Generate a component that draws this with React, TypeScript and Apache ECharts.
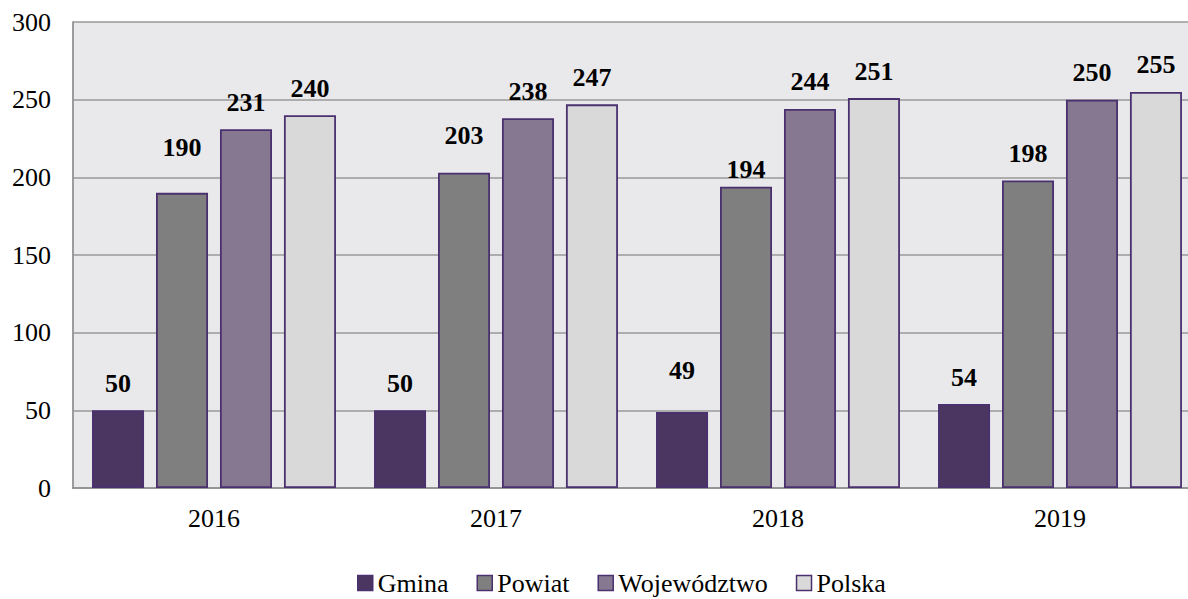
import React, { useEffect, useRef } from "react";
import * as echarts from "echarts";

const categories = ["2016", "2017", "2018", "2019"];
const gmina = [50, 50, 49, 54];
const powiat = [190, 203, 194, 198];
const wojewodztwo = [231, 238, 244, 250];
const polska = [240, 247, 251, 255];
const yTicks = [0, 50, 100, 150, 200, 250, 300];

const seriesDefs = [
  { name: "Gmina", data: gmina, color: "#4a3660" },
  { name: "Powiat", data: powiat, color: "#7f7f7f" },
  { name: "Województwo", data: wojewodztwo, color: "#877891" },
  { name: "Polska", data: polska, color: "#d9d9d9" },
];

const FONT = "Liberation Serif";

// extra vertical lift (px) of individual value labels, by series and category index
const labelLift: Record<string, number[]> = {
  Gmina: [0, 0, 14, 0],
  Powiat: [18, 10, -10, 0],
  Województwo: [0, 0, 0, 0],
  Polska: [0, 0, 0, 0],
};

export default function App() {
  const ref = useRef<HTMLDivElement>(null);
  useEffect(() => {
    if (!ref.current) return;
    const chart = echarts.init(ref.current, undefined, { renderer: "svg" });
    chart.setOption({
      animation: false,
      backgroundColor: "#ffffff",
      textStyle: { fontFamily: FONT },
      grid: {
        left: 73,
        top: 22,
        width: 1128,
        bottom: 111,
        outerBoundsMode: "none",
        containLabel: false,
        show: true,
        backgroundColor: "#e9e9eb",
        borderWidth: 0,
      },
      legend: {
        top: 570,
        left: 357,
        padding: 0,
        icon: "rect",
        itemWidth: 15,
        itemHeight: 15,
        itemGap: 28,
        itemStyle: { borderColor: "#4b3070", borderWidth: 1.5 },
        textStyle: { fontFamily: FONT, fontSize: 26, lineHeight: 24, color: "#000" },
        data: seriesDefs.map((s) => s.name),
      },
      xAxis: {
        type: "category",
        data: categories,
        axisLine: { show: true, lineStyle: { color: "#8c8c8c", width: 1.7 } },
        axisTick: { show: false },
        axisLabel: { fontFamily: FONT, fontSize: 26, color: "#000", margin: 17 },
      },
      yAxis: {
        type: "value",
        min: yTicks[0],
        max: yTicks[yTicks.length - 1],
        interval: 50,
        axisLine: { show: true, lineStyle: { color: "#8c8c8c", width: 1.7 } },
        axisTick: { show: false },
        splitLine: { show: true, lineStyle: { color: "#999999", width: 1.7 } },
        axisLabel: { fontFamily: FONT, fontSize: 26, color: "#000", align: "right", margin: 22 },
      },
      series: seriesDefs.map((s) => ({
        name: s.name,
        type: "bar",
        data: s.data.map((v, i) => ({
          value: v,
          label: { offset: [0, -(labelLift[s.name][i] || 0)] },
        })),
        barGap: "23%",
        barCategoryGap: "13.5%",
        itemStyle: { color: s.color, borderColor: "#4b3070", borderWidth: 1.8 },
        label: {
          show: true,
          position: "top",
          distance: 14,
          fontFamily: FONT,
          fontSize: 26,
          fontWeight: "bold",
          color: "#000",
        },
      })),
    });
    return () => chart.dispose();
  }, []);
  return <div ref={ref} style={{ width: 1188, height: 599, position: "absolute", left: 0, top: 0 }} />;
}
